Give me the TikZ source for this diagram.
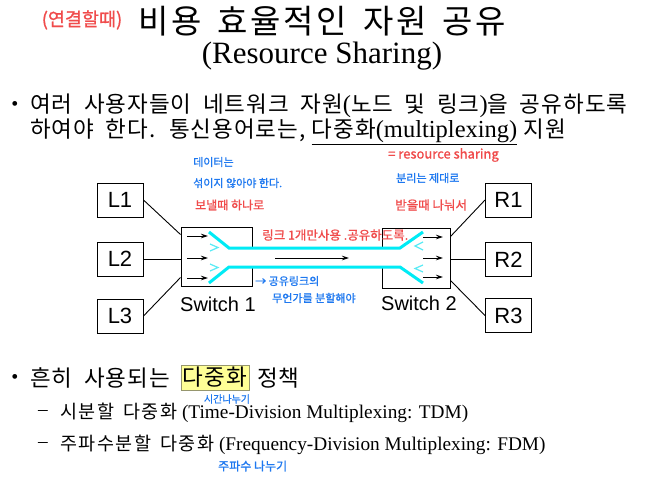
\documentclass[tikz,border=0pt]{standalone}
\usepackage{fontspec}
\setmainfont{Liberation Serif}
\setsansfont{Liberation Sans}
\newfontfamily\kr{Noto Sans CJK KR}
\newfontfamily\kra[FakeBold=1]{Noto Sans CJK KR}
\newfontfamily\krt[LetterSpace=8,WordSpace=1.6]{Noto Sans CJK KR}
\newfontfamily\krb[LetterSpace=4.5,WordSpace=1.9]{Noto Sans CJK KR}
\newfontfamily\krs[LetterSpace=8,WordSpace=1.6]{Noto Sans CJK KR}
\usetikzlibrary{arrows.meta,calc}
\definecolor{annred}{RGB}{240,75,75}
\definecolor{annblue}{RGB}{30,120,240}
\definecolor{pipecyan}{RGB}{0,235,245}
\definecolor{chevcyan}{RGB}{90,235,245}
\definecolor{hlfill}{RGB}{255,255,150}
\definecolor{hldraw}{RGB}{150,150,110}
\tikzset{
  ebox/.style={draw,line width=1pt,minimum width=46pt,minimum height=34pt,inner sep=0pt,font=\sffamily\fontsize{22}{22}\selectfont},
  swbox/.style={draw,line width=1pt,inner sep=0pt,fill=white},
  link/.style={line width=0.9pt},
  inarrow/.style={line width=0.9pt,-{Stealth[length=7pt,width=4.5pt]}},
  pipe/.style={pipecyan,line width=3pt},
  chev/.style={chevcyan,line width=1.2pt},
  swlabel/.style={font=\sffamily\fontsize{20}{20}\selectfont},
  anred/.style={annred,font=\kra\fontsize{12}{12}\selectfont,inner sep=0pt},
  anblue/.style={annblue,font=\kra\fontsize{11}{11}\selectfont,inner sep=0pt},
  body/.style={anchor=west,inner sep=0pt,font=\fontsize{24.5}{26}\selectfont},
  sub/.style={anchor=west,inner sep=0pt,font=\fontsize{19.3}{20}\selectfont},
}
\newcommand{\kb}[1]{{\krb\fontsize{22.5}{24}\selectfont #1}}
\newcommand{\ks}[1]{{\krs\fontsize{18.5}{20}\selectfont #1}}
\begin{document}
\begin{tikzpicture}[x=1pt,y=-1pt]
\useasboundingbox[fill=white] (0,0) rectangle (650,480);

% title
\node[inner sep=0pt] (title) at (322,21) {\krt\fontsize{33}{34}\selectfont 비용 효율적인 자원 공유};
\node[inner sep=0pt] (subtitle) at (322,56) {\fontsize{31}{32}\selectfont (Resource Sharing)};

% bullet 1
\node[inner sep=0pt,font=\fontsize{20}{20}\selectfont] (bul1) at (15,106) {•};
\node[body] (line1) at (30,106) {\kb{여러 사용자들이 네트워크 자원}(\kb{노드 및 링크})\kb{을 공유하도록}};
\node[body] (line2) at (30,132) {\kb{하여야 한다. 통신용어로는,} \underline{\kb{다중화}(multiplexing)} \kb{지원}};

% end boxes
\node[ebox] (L1) at (120,200) {L1};
\node[ebox] (L2) at (120,259) {L2};
\node[ebox] (L3) at (120,316) {L3};
\node[ebox] (R1) at (508.5,200) {R1};
\node[ebox] (R2) at (508.5,259.5) {R2};
\node[ebox] (R3) at (508.5,315.5) {R3};

% switches
\node[swbox,minimum width=71pt,minimum height=59pt] (S1) at (216.5,256.5) {};
\node[swbox,minimum width=68pt,minimum height=60pt] (S2) at (416,258) {};
\node[swlabel] (S1lab) at (218,304) {Switch 1};
\node[swlabel] (S2lab) at (419,303) {Switch 2};

% links to switches
\coordinate (s1a) at ($(S1.north west)+(0,8)$);
\coordinate (s1c) at ($(S1.south west)+(0,-9)$);
\coordinate (s2a) at ($(S2.north east)+(0,9)$);
\coordinate (s2c) at ($(S2.south east)+(0,-8)$);
\draw[link] (L1.east) -- (s1a);
\draw[link] (L2.east) -- (S1.west |- L2.east);
\draw[link] (L3.east) -- (s1c);
\draw[link] (s2a) -- (R1.west);
\draw[link] (S2.east |- R2.west) -- (R2.west);
\draw[link] (s2c) -- (R3.west);

% shared pipe (white inside, cyan walls)
\fill[white] (229,248) rectangle (400,267);
\coordinate (pu0) at (209,232); \coordinate (pu1) at (229,248);
\coordinate (pu2) at (400,248); \coordinate (pu3) at (423,232);
\coordinate (pl0) at (209,283); \coordinate (pl1) at (229,267);
\coordinate (pl2) at (400,267); \coordinate (pl3) at (423,283);
\draw[pipe] (pu0) -- (pu1) -- (pu2) -- (pu3);
\draw[pipe] (pl0) -- (pl1) -- (pl2) -- (pl3);
% chevrons
\draw[chev] (210,244) -- (218,247.5) -- (210,251);
\draw[chev] (210,264) -- (218,267.5) -- (210,271);
\draw[chev] (423,242) -- (415,246) -- (423,250);
\draw[chev] (423,265) -- (415,268.5) -- (423,272);

% arrows inside switches
\coordinate (i1a) at (187,236); \coordinate (i1b) at (208,236);
\coordinate (i2a) at (187,258); \coordinate (i2b) at (208,258);
\coordinate (i3a) at (187,278); \coordinate (i3b) at (208,278);
\draw[inarrow] (i1a) -- (i1b);
\draw[inarrow] (i2a) -- (i2b);
\draw[inarrow] (i3a) -- (i3b);
\coordinate (o1a) at (423,237); \coordinate (o1b) at (443,237);
\coordinate (o2a) at (423,258); \coordinate (o2b) at (443,258);
\coordinate (o3a) at (423,277); \coordinate (o3b) at (443,277);
\draw[inarrow] (o1a) -- (o1b);
\draw[inarrow] (o2a) -- (o2b);
\draw[inarrow] (o3a) -- (o3b);
\coordinate (m1) at (275,258); \coordinate (m2) at (349,258);
\draw[inarrow] (m1) -- (m2);

% bullet 2
\node[inner sep=0pt,font=\fontsize{20}{20}\selectfont] (bul2) at (15,379) {•};
\node[body] (b2a) at (30,378) {\kb{흔히 사용되는}};
\node[draw=hldraw,fill=hlfill,line width=0.8pt,minimum width=68pt,minimum height=25pt,inner sep=0pt] (dz) at (215,377.5) {\kb{다중화}};
\node[body] (b2b) at (257,378) {\kb{정책}};

\node[sub] (d1) at (38,413) {–};
\node[sub] (t1) at (60,413) {\ks{시분할 다중화} (Time-Division Multiplexing: TDM)};
\node[sub] (d2) at (38,445) {–};
\node[sub] (t2) at (60,445) {\ks{주파수분할 다중화} (Frequency-Division Multiplexing: FDM)};

% handwritten annotations (on top)
\node[anred,font=\kra\fontsize{18.5}{19}\selectfont] (ann0) at (82,20) {(연결할때)};
\node[anblue,anchor=west] (a1) at (193,162) {데이터는};
\node[anblue,anchor=west] (a2) at (193,183) {섞이지 않아야 한다.};
\node[anred,anchor=west] (a3) at (195,205) {보낼때 하나로};
\node[anred,anchor=west,font=\kra\fontsize{13}{13}\selectfont] (a4) at (388,155) {= resource sharing};
\node[anblue,anchor=west] (a5) at (396,178) {분리는 제대로};
\node[anred,anchor=west,font=\kra\fontsize{12.5}{13}\selectfont] (a6) at (395,205) {받을때 나눠서};
\node[anred,anchor=west,font=\kra\fontsize{12.5}{13}\selectfont] (a7) at (262,235) {링크 1개만사용 .공유하도록.};
\node[anblue,anchor=west] (a8) at (255,281) {→ 공유링크의};
\node[anblue,anchor=west] (a9) at (272,298) {무언가를 분할해야};
\node[anblue,font=\kra\fontsize{10}{10}\selectfont] (a10) at (227,399) {시간나누기};
\node[anblue,anchor=west,font=\kra\fontsize{12}{12}\selectfont] (a11) at (218,466) {주파수 나누기};
\end{tikzpicture}
\end{document}
